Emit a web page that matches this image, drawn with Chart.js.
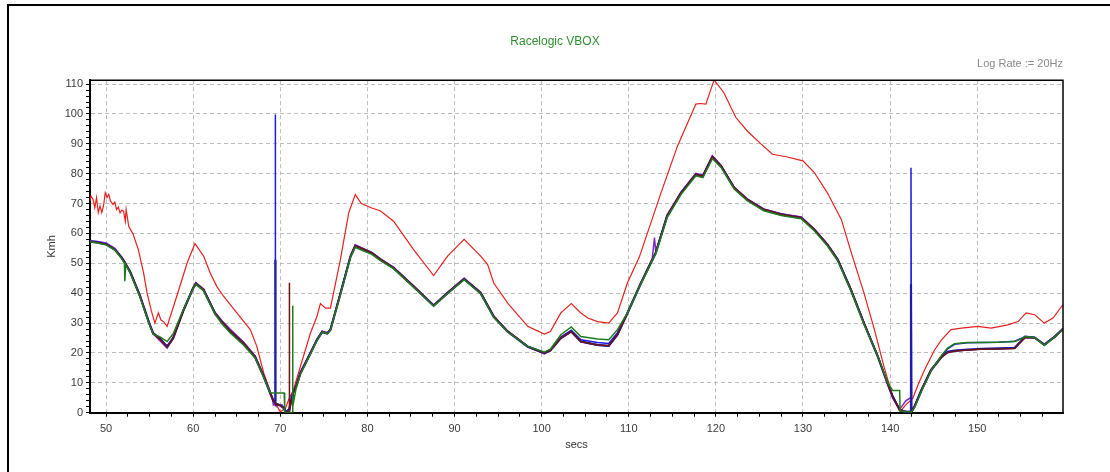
<!DOCTYPE html>
<html>
<head>
<meta charset="utf-8">
<script src="https://cdn.jsdelivr.net/npm/chart.js@4.4.1/dist/chart.umd.min.js"></script>
<style>
  html, body { margin: 0; padding: 0; background: #fff; }
  canvas { display: block; }
</style>
</head>
<body>
<canvas id="c" width="1110" height="472"></canvas>
<script>
// ---------------- DATA ----------------
const chartTitle = 'Racelogic VBOX';
const chartSubtitle = 'Log Rate := 20Hz';
const xAxisTitle = 'secs';
const yAxisTitle = 'Kmh';
const xMajorTicks = [50, 60, 70, 80, 90, 100, 110, 120, 130, 140, 150];
const yMajorTicks = [0, 10, 20, 30, 40, 50, 60, 70, 80, 90, 100, 110];

// Red trace (higher speed channel)
const redTimes = [48.15,48.27,48.5,48.7,48.9,49.1,49.3,49.5,49.7,49.9,50.1,50.3,50.5,50.8,51.0,51.2,51.4,51.6,51.8,52.0,52.2,52.3,52.6,53.1,53.7,54.3,54.7,55.2,55.6,56.0,56.3,56.6,57.0,58.1,59.3,60.2,61.2,61.95,62.7,63.5,64.25,66.55,67.3,68.1,69.2,70.0,70.6,70.95,71.5,72.3,73.45,74.2,74.6,75.2,75.75,76.9,77.85,78.6,79.3,80.5,81.5,83.0,85.3,87.6,89.2,91.1,93.0,93.8,94.5,96.1,98.4,100.3,101.0,102.2,103.4,104.5,105.3,106.4,107.7,108.7,109.85,111.2,113.7,115.6,117.7,118.2,118.85,119.8,120.9,122.3,123.6,125.2,126.5,128.2,130.0,131.3,132.8,134.4,135.5,137.0,138.2,139.3,140.3,141.2,141.8,142.6,143.2,143.95,145.1,145.9,147.0,148.2,150.1,151.6,153.5,154.7,155.6,156.6,157.7,158.7,159.85];
const redValues = [71,72.5,71.4,68.6,72,67,69.2,67,69.2,73.6,72,73.1,70.8,69.7,70.5,68,68.8,66.9,67.8,67.5,64.1,68,62.4,59.7,54.6,46.8,40.1,34,30,33.4,31,30.5,28.9,38.9,50.1,56.6,52.4,46.8,42.3,38.9,36.2,27.8,22.2,13.2,4.3,0.3,1.5,4.3,7.6,15.4,26.6,32.2,36.5,35,35,51.3,66.9,73,70,68.5,67.5,64.1,54.6,45.9,52.4,58,52.4,49.6,43.4,36.7,28.9,26.3,27.2,33.4,36.5,33.4,31.7,30.5,30,33.4,43.5,52,73.6,89.3,103.3,103.5,103.3,111.4,107.2,98.8,94.3,89.9,86.5,85.6,84.3,80.4,73.6,64.7,54,40.1,27.8,15.4,5.4,0.5,2.6,4.8,9.3,14.3,21,24.4,27.8,28.3,28.9,28.3,29.4,30.5,33.4,32.8,30,31.7,36.2];

// Cluster of lower traces (shared time base)
const clusterTimes = [48.15,49.0,50.0,51.0,51.8,52.1,52.15,52.25,52.8,53.9,54.9,55.4,56.2,57.0,57.7,58.9,60.0,60.3,61.2,62.5,63.3,64.25,65.8,67.1,68.1,68.85,69.05,69.2,69.4,69.42,69.45,70.0,70.2,70.45,70.5,70.65,71.0,71.03,71.06,71.35,71.4,71.45,71.8,72.3,73.45,74.2,74.8,75.4,75.75,76.9,78.05,78.6,79.5,80.5,81.5,83.0,85.3,87.6,89.2,91.1,93.0,94.5,96.1,98.4,100.3,101.0,102.2,103.4,104.5,106.4,107.7,108.7,109.85,111.4,112.7,112.95,113.1,114.4,116.0,117.7,118.5,119.6,120.6,122.1,123.6,125.5,127.5,129.8,131.3,132.8,134.0,135.5,137.0,138.6,139.7,140.3,141.1,141.15,141.8,142.35,142.4,142.45,142.8,143.6,144.7,145.9,146.6,147.4,148.9,150.5,152.4,154.3,155.1,155.5,156.6,157.7,158.9,159.85];
const blueValues = [57.5,57.2,56.6,54.8,51.8,50.4,50.2,49.7,46.8,38.9,30.2,26.4,24.6,22.3,25.2,34.6,41.9,43.4,41.2,33.4,30.6,27.6,23.4,18.9,12.3,6.6,5.2,4.2,3.4,99.8,3.2,2.6,2.2,1.6,1.2,0.3,1.2,1.4,1.6,5.8,6.2,6.6,8.8,13.4,20.0,24.5,27.2,26.7,27.9,40.0,52.4,56.0,54.9,53.6,51.4,48.6,42.4,36.0,40.2,44.9,40.2,32.3,27.3,22.3,20.2,21.1,25.3,27.6,24.4,23.5,23.2,26.8,33.5,43.5,51.3,52.8,53.7,65.9,73.7,79.9,79.3,85.8,82.7,75.4,71.5,68.1,66.5,65.4,61.4,56.4,51.3,41.3,30.1,18.9,10.0,5.6,1.1,1.0,0.4,0.4,82.0,0.4,2.1,7.7,14.4,18.9,21.4,22.9,23.4,23.5,23.6,23.9,24.9,25.6,25.3,22.9,25.6,28.2];
const navyValues = [57.3,57.0,56.4,54.6,51.9,50.5,50.3,49.8,46.9,39.0,30.4,26.6,24.8,22.1,25.0,34.4,41.7,43.2,41.0,33.2,30.3,27.3,23.1,18.6,12.0,6.4,5.0,4.0,3.2,51.2,3.0,2.4,2.0,1.4,1.0,0.2,1.0,1.2,1.4,5.6,6.0,6.4,8.6,13.2,19.8,24.3,27.0,26.5,27.7,39.8,52.2,55.8,54.7,53.4,51.2,48.4,42.2,35.8,40.0,44.7,40.0,32.1,27.1,22.1,20.0,20.9,25.0,27.2,23.8,22.7,22.4,26.1,33.3,43.3,51.1,52.6,53.5,65.7,73.5,79.7,79.1,85.6,82.5,75.2,71.3,67.9,66.3,65.2,61.2,56.2,51.1,41.1,29.9,18.7,9.8,5.4,0.9,0.8,0.3,0.3,43.0,0.3,2.0,7.5,14.2,18.6,20.4,20.8,21.1,21.4,21.5,21.7,24.1,25.3,25.1,22.7,25.4,28.0];
const greenValues = [57.2,56.8,56.2,54.4,51.5,50.0,44.0,49.6,46.5,38.6,30.0,26.3,25.4,23.8,26.4,34.8,41.6,43.0,40.8,33.0,29.8,26.7,22.6,18.3,11.8,6.6,6.6,6.6,6.6,6.6,6.6,6.6,6.6,6.6,0.2,0.1,0.1,0.1,0.1,0.1,35.8,2.0,8.0,12.8,19.6,24.2,27.0,26.4,27.6,39.6,52.0,55.4,54.2,53.0,50.9,48.2,42.0,35.7,39.9,44.5,39.8,31.9,27.0,22.2,20.3,21.3,26.1,28.7,25.5,24.7,24.4,27.8,33.4,43.2,50.9,52.4,53.2,65.3,73.1,79.3,78.7,85.0,82.1,74.9,71.0,67.6,66.0,64.9,60.9,55.9,50.8,40.8,29.7,18.8,10.2,7.4,7.4,0.5,0.3,0.2,0.2,0.2,1.6,7.2,14.0,19.2,21.6,23.1,23.5,23.5,23.6,23.8,24.8,25.5,25.2,22.6,25.4,27.9];
const purpleValues = [57.6,57.3,56.8,55.0,52.0,50.7,50.4,49.9,47.0,39.2,30.4,26.5,24.0,21.6,24.8,34.5,42.0,43.5,41.4,33.6,30.8,27.9,23.6,19.0,12.4,6.8,5.2,2.6,2.6,2.6,2.6,2.6,2.6,1.2,0.8,0.2,1.0,1.2,1.4,5.9,6.2,6.6,9.0,13.6,20.2,24.6,27.3,26.8,28.0,40.2,52.6,56.2,55.0,53.7,51.5,48.7,42.5,36.0,40.3,45.0,40.3,32.4,27.3,22.1,19.7,20.8,24.9,27.1,23.7,22.6,22.3,26.0,33.6,43.7,51.6,58.6,53.9,66.2,73.9,80.1,79.5,86.0,82.8,75.5,71.6,68.2,66.6,65.5,61.5,56.5,51.4,41.4,30.2,18.9,9.9,4.9,1.2,1.3,4.0,5.0,4.9,0.4,2.2,7.8,14.5,18.7,20.2,20.7,21.0,21.3,21.4,21.6,24.3,25.4,25.2,22.9,25.6,28.2];
const maroonValues = [57.3,57.0,56.4,54.6,51.8,50.5,50.3,49.8,46.8,38.9,30.2,26.5,24.5,22.0,25.0,34.3,41.8,43.3,41.2,33.3,30.4,27.4,23.2,18.7,12.1,6.5,5.0,4.0,3.2,3.1,3.0,2.4,2.0,1.2,0.8,0.1,0.4,43.5,0.8,4.8,5.6,6.2,8.6,13.2,19.8,24.3,27.1,26.6,27.8,39.9,52.3,55.9,54.8,53.5,51.3,48.5,42.3,35.9,40.1,44.8,40.1,32.2,27.2,22.2,20.0,20.9,25.0,27.2,23.8,22.7,22.4,26.1,33.3,43.4,51.2,52.7,53.6,65.8,73.6,79.8,79.2,85.7,82.6,75.3,71.4,68.0,66.4,65.3,61.3,56.3,51.2,41.2,30.0,18.8,9.9,5.5,1.0,0.9,0.3,0.3,0.3,0.3,2.0,7.6,14.3,18.6,20.1,20.6,21.0,21.2,21.3,21.5,24.0,25.2,25.0,22.7,25.4,28.0];

// ---------------- CHART ----------------
const FONT = "Arial, 'Liberation Sans', sans-serif";
const toPts = (t, v) => t.map((x, i) => ({ x: x, y: v[i] }));
const ds = (label, t, v, color, width) => ({
  label, data: toPts(t, v), borderColor: color, backgroundColor: color,
  borderWidth: width, pointRadius: 0, tension: 0, fill: false
});

const framePlugin = {
  id: 'frame',
  beforeDraw(chart) {
    const c = chart.ctx;
    c.save();
    c.fillStyle = '#fff';
    c.fillRect(0, 0, chart.width, chart.height);
    c.strokeStyle = '#000';
    c.lineWidth = 2;
    c.beginPath();
    c.moveTo(8, chart.height);
    c.lineTo(8, 5);
    c.lineTo(chart.width, 5);
    c.stroke();
    c.restore();
  },
  afterDatasetsDraw(chart) {
    const a = chart.chartArea, c = chart.ctx;
    c.save();
    c.strokeStyle = '#000';
    c.lineWidth = 1.5;
    c.beginPath();
    c.moveTo(a.left, a.top);
    c.lineTo(a.right, a.top);
    c.lineTo(a.right, a.bottom);
    c.stroke();
    c.restore();
  }
};

const gridMajor = (list) => (ctx) => (ctx.tick && list.includes(ctx.tick.value)) ? '#bdbdbd' : 'rgba(0,0,0,0)';

new Chart(document.getElementById('c'), {
  type: 'line',
  data: {
    datasets: [
      ds('Channel 2', clusterTimes, greenValues, '#1f7a1f', 1.5),
      ds('Channel 3', clusterTimes, maroonValues, '#6e1414', 1.5),
      ds('Channel 4', clusterTimes, navyValues, '#1c1ca8', 2.2),
      ds('Channel 5', clusterTimes, purpleValues, '#7a2cc4', 1.5),
      ds('Channel 6', clusterTimes, blueValues, '#1a1ae0', 1.5),
      ds('Channel 1', redTimes, redValues, '#e3201c', 1.2)
    ]
  },
  plugins: [framePlugin],
  options: {
    responsive: false,
    animation: false,
    devicePixelRatio: 1,
    layout: { padding: { top: 0, right: 0, bottom: 0, left: 0 } },
    plugins: {
      legend: { display: false },
      tooltip: { enabled: false },
      title: {
        display: true, text: chartTitle, color: '#2f8f2f',
        font: { family: FONT, size: 12, weight: 'normal' },
        padding: { top: 34.8, bottom: 4.6 }
      },
      subtitle: {
        display: true, text: chartSubtitle, color: '#8a8a8a', align: 'end', fullSize: false,
        font: { family: FONT, size: 11, weight: 'normal' },
        padding: { top: 3.6, bottom: 9.6 }
      }
    },
    scales: {
      x: {
        type: 'linear', min: 48.15, max: 159.85,
        afterBuildTicks: (s) => {
          const t = [];
          for (let v = 50; v <= 159.85; v += 2.5) t.push({ value: v });
          s.ticks = t;
        },
        afterFit: (s) => { s.height = 59.3; },
        ticks: {
          autoSkip: false, maxRotation: 0, padding: 6, color: '#3a3a3a',
          font: { family: FONT, size: 11 },
          callback: (v) => xMajorTicks.includes(v) ? String(v) : ''
        },
        grid: { color: gridMajor(xMajorTicks), lineWidth: 1, tickLength: 4, tickColor: '#000', tickWidth: 1 },
        border: { display: true, color: '#000', width: 2, dash: [4, 3] },
        title: {
          display: true, text: xAxisTitle, color: '#333',
          font: { family: FONT, size: 11 }, padding: { top: 0, bottom: 20.4 }
        }
      },
      y: {
        type: 'linear', position: 'left', min: 0, max: 111.3,
        afterBuildTicks: (s) => {
          const t = [];
          for (let v = 0; v <= 110; v += 2) t.push({ value: v });
          s.ticks = t;
        },
        afterFit: (s) => { s.width = 90; },
        ticks: {
          autoSkip: false, padding: 3, color: '#3a3a3a',
          font: { family: FONT, size: 11 },
          callback: (v) => yMajorTicks.includes(v) ? String(v) : ''
        },
        grid: { color: gridMajor(yMajorTicks.filter(v => v > 0)), lineWidth: 1, tickLength: 4, tickColor: '#000', tickWidth: 1 },
        border: { display: true, color: '#000', width: 2, dash: [4, 3] },
        title: {
          display: true, text: yAxisTitle, color: '#333',
          font: { family: FONT, size: 11 }, padding: { top: 45, bottom: 0 }
        }
      },
      yRight: {
        type: 'linear', position: 'right', display: true,
        afterFit: (s) => { s.width = 47; },
        ticks: { display: false },
        grid: { display: false, drawTicks: false },
        border: { display: false }
      }
    }
  }
});
</script>
</body>
</html>
